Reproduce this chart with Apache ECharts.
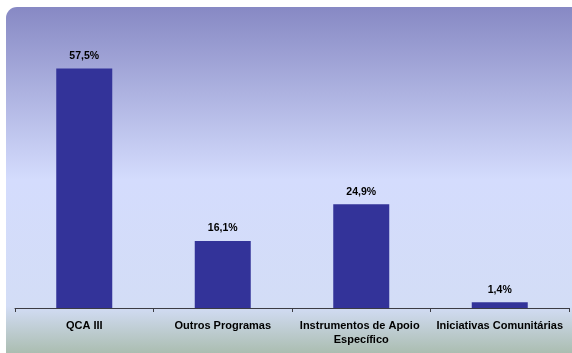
<!DOCTYPE html>
<html>
<head>
<meta charset="utf-8">
<script src="https://cdn.jsdelivr.net/npm/echarts@6/dist/echarts.min.js"></script>
<style>
  html, body { margin: 0; padding: 0; background: #fff; }
  #chart { width: 572px; height: 353px; }
</style>
</head>
<body>
<div id="chart"></div>
<script>
// data
const categories = ['QCA III', 'Outros Programas', 'Instrumentos de Apoio Específico', 'Iniciativas Comunitárias'];
const shares = [57.5, 16.1, 24.9, 1.4];

const chart = echarts.init(document.getElementById('chart'));

const option = {
  animation: false,
  textStyle: { fontFamily: 'Liberation Sans, Arial, sans-serif' },
  graphic: [{
    type: 'rect',
    z: -10,
    silent: true,
    shape: { x: 6, y: 7, width: 580, height: 360, r: [11, 0, 0, 0] },
    style: {
      fill: new echarts.graphic.LinearGradient(0, 0, 0, 1, [
        { offset: 0, color: '#8789c4' },
        { offset: 0.48, color: '#d4dcfd' },
        { offset: 0.83, color: '#d3ddf6' },
        { offset: 1, color: '#9fb49c' }
      ])
    }
  }],
  grid: { left: 15, right: 3, top: 58, bottom: 45 },
  xAxis: {
    type: 'category',
    data: categories,
    axisLine: { lineStyle: { color: '#3c3c44', width: 1 } },
    axisTick: { show: true, length: 4, inside: false, lineStyle: { color: '#3c3c44' } },
    axisLabel: {
      color: '#000',
      fontSize: 11,
      fontWeight: 'bold',
      margin: 11,
      lineHeight: 14,
      width: 134,
      overflow: 'break',
      interval: 0
    }
  },
  yAxis: {
    type: 'value',
    min: 0,
    max: 60,
    show: false,
    splitLine: { show: false }
  },
  series: [{
    type: 'bar',
    data: shares,
    barWidth: 56,
    itemStyle: { color: '#333399' },
    label: {
      show: true,
      position: 'top',
      distance: 7,
      color: '#000',
      fontSize: 10.5,
      fontWeight: 'bold',
      formatter: (p) => p.value.toFixed(1).replace('.', ',') + '%'
    }
  }]
};

chart.setOption(option);
</script>
</body>
</html>
